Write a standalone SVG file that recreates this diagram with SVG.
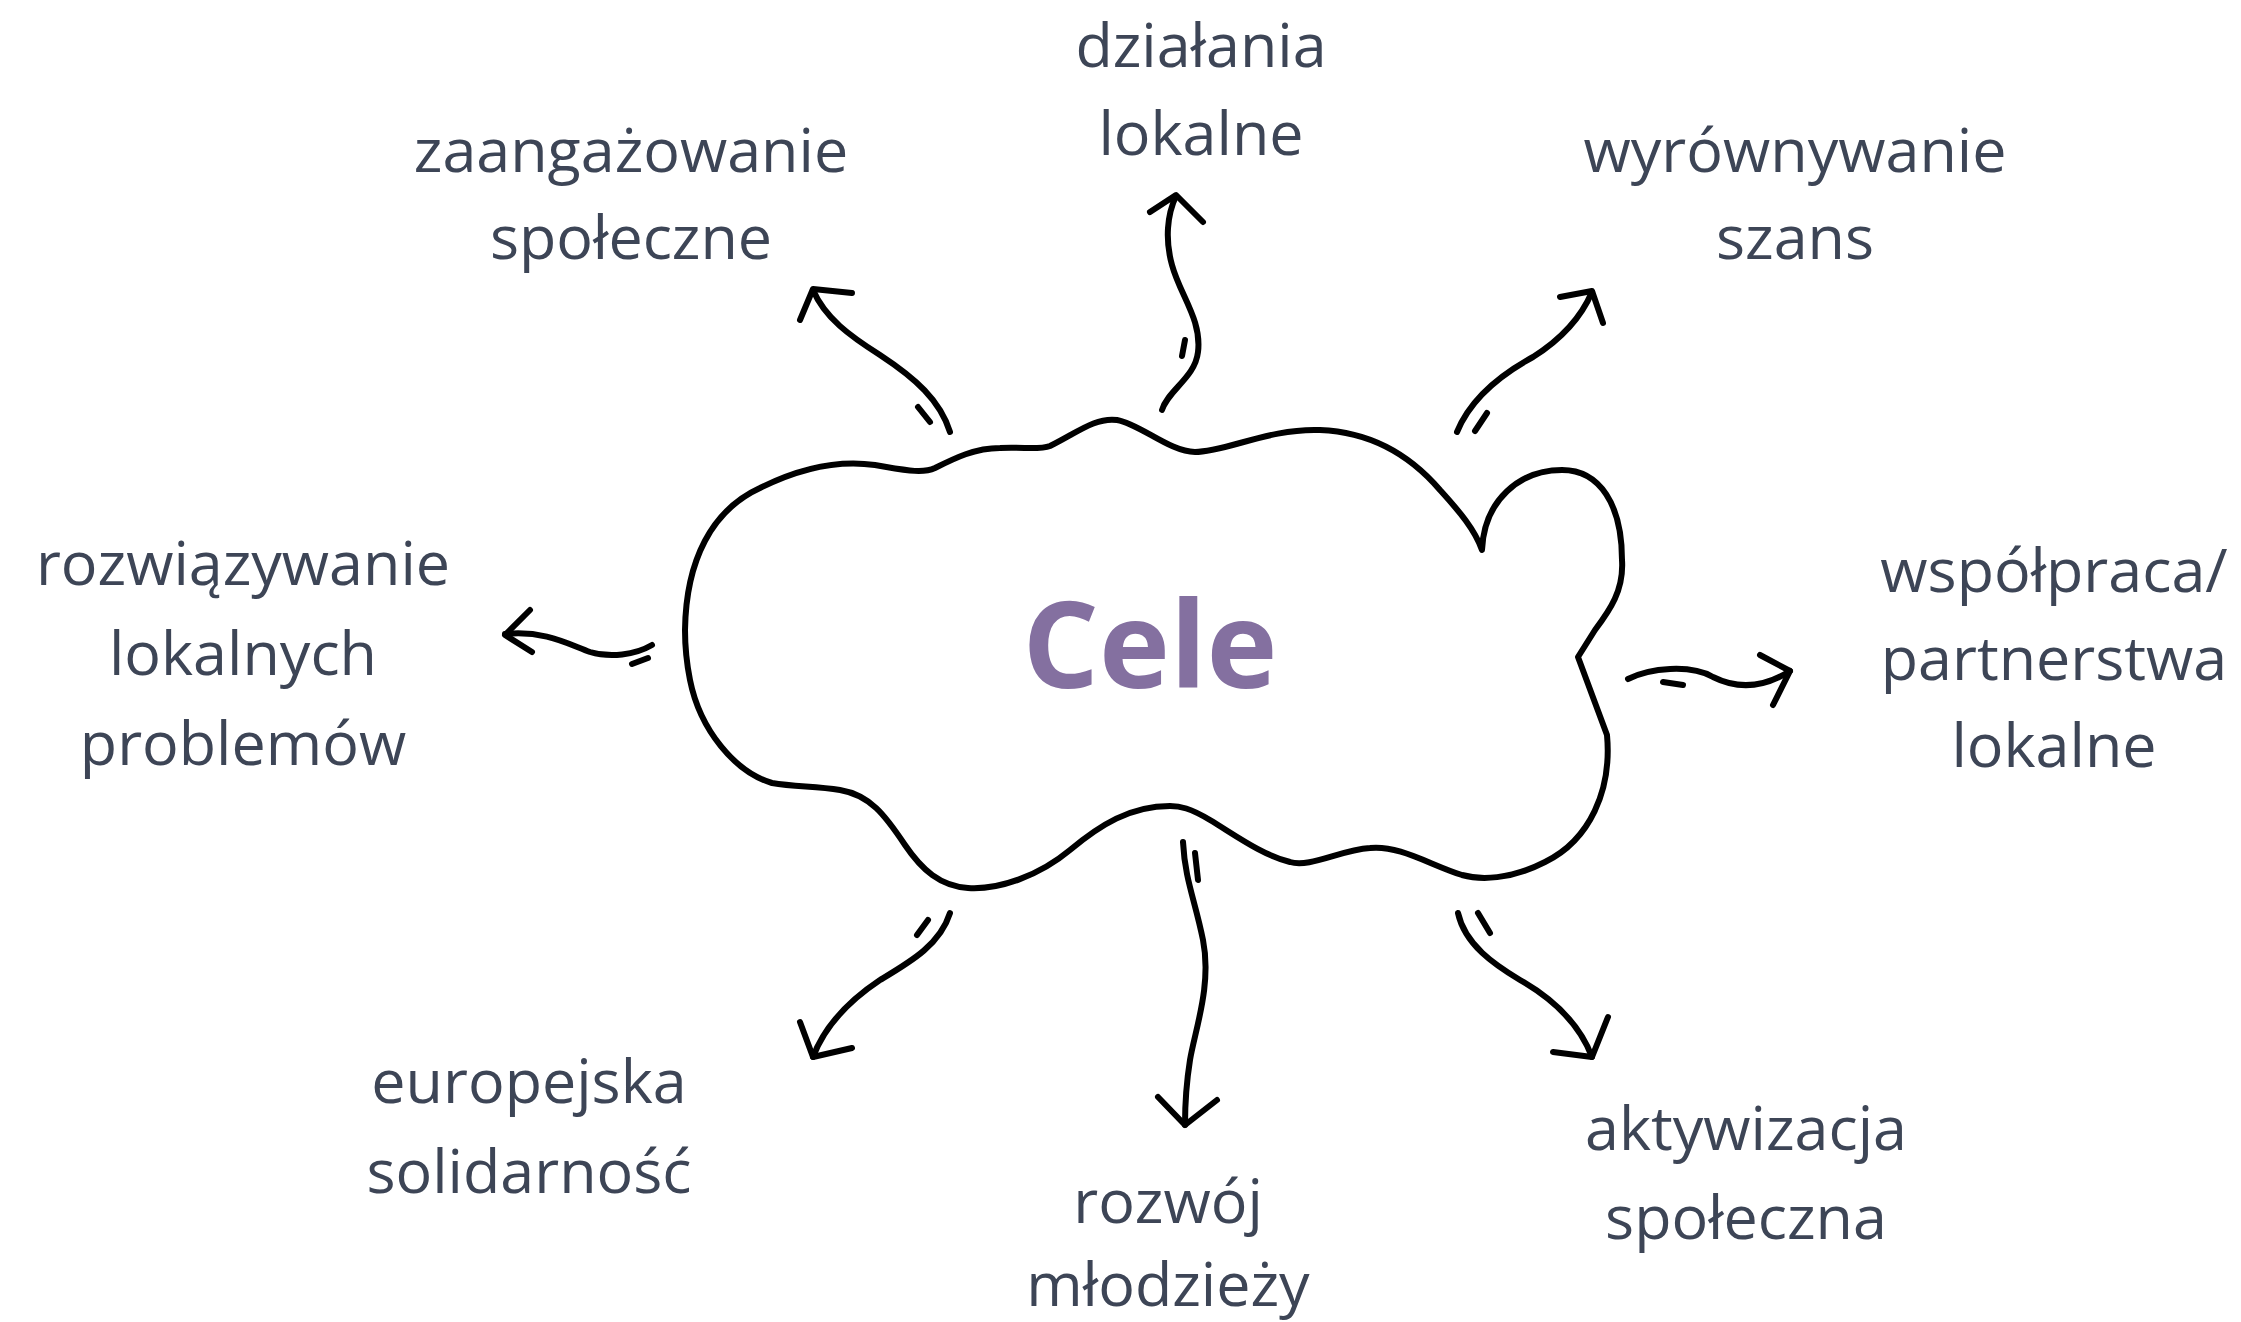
<svg xmlns="http://www.w3.org/2000/svg" width="2241" height="1322" viewBox="0 0 2241 1322">
<style>
.ln{fill:none;stroke:#000;stroke-width:6;stroke-linecap:round;stroke-linejoin:round}
.lbl{font-family:"Open Sans","Noto Sans",sans-serif;font-size:61px;fill:#3d4556;text-anchor:middle}
.title{font-family:"Open Sans","Noto Sans",sans-serif;font-size:120px;font-weight:bold;fill:#8470a0;text-anchor:middle}
</style>
<rect width="2241" height="1322" fill="#fff"/>
<g id="connectors">
  <g id="c-zaangazowanie"><path class="ln" d="M950,432 C940,400 915,378 880,355 C850,336 825,318 813,290"/><path class="ln" d="M800,320 L813,289 L852,293"/><path class="ln" d="M918,407 L930,422"/></g>
  <g id="c-dzialania"><path class="ln" d="M1162,410 C1168,390 1195,378 1198,352 C1202,320 1180,295 1172,265 C1165,240 1167,215 1176,196"/><path class="ln" d="M1150,212 L1176,195 L1203,222"/><path class="ln" d="M1185,340 L1182,356"/></g>
  <g id="c-wyrownywanie"><path class="ln" d="M1457,432 C1470,400 1500,375 1533,357 C1560,340 1580,320 1592,292"/><path class="ln" d="M1560,297 L1592,291 L1603,323"/><path class="ln" d="M1475,431 L1487,413"/></g>
  <g id="c-rozwiazywanie"><path class="ln" d="M652,645 C635,655 610,658 590,652 C570,645 545,630 505,634"/><path class="ln" d="M530,610 L505,635 L532,652"/><path class="ln" d="M632,664 L648,658"/></g>
  <g id="c-wspolpraca"><path class="ln" d="M1628,679 C1650,668 1690,664 1713,677 C1735,688 1760,690 1790,671"/><path class="ln" d="M1760,655 L1790,671 L1773,705"/><path class="ln" d="M1663,682 L1683,685"/></g>
  <g id="c-europejska"><path class="ln" d="M950,913 C940,945 910,962 880,980 C850,1000 825,1025 813,1057"/><path class="ln" d="M800,1022 L813,1057 L852,1048"/><path class="ln" d="M928,920 L917,935"/></g>
  <g id="c-rozwoj"><path class="ln" d="M1183,842 C1185,880 1195,900 1203,940 C1212,985 1195,1030 1190,1060 C1186,1085 1185,1105 1185,1125"/><path class="ln" d="M1158,1097 L1185,1125 L1217,1100"/><path class="ln" d="M1195,853 L1198,880"/></g>
  <g id="c-aktywizacja"><path class="ln" d="M1458,913 C1465,945 1495,965 1520,980 C1555,1000 1580,1025 1592,1057"/><path class="ln" d="M1553,1052 L1592,1057 L1608,1017"/><path class="ln" d="M1478,913 L1490,933"/></g>
</g>
<g id="cele">
  <path class="ln" d="M685,630 C686,560 712,510 760,488 C800,468 840,460 875,465 C905,470 922,474 935,468 C955,458 975,448 1000,448 C1025,447 1040,450 1050,446 C1075,434 1095,417 1117,420 C1140,424 1170,452 1195,452 C1225,452 1270,428 1320,430 C1370,432 1410,455 1440,490 C1460,512 1475,530 1482,550 C1484,500 1520,470 1562,470 C1600,470 1622,505 1622,560 C1624,590 1610,610 1595,630 L1578,657 L1607,735 C1612,790 1590,840 1545,862 C1510,880 1480,880 1462,875 C1430,865 1400,845 1370,848 C1340,850 1310,868 1290,862 C1262,855 1235,835 1210,820 C1190,808 1180,806 1170,806 C1130,806 1100,825 1070,850 C1040,875 1000,890 968,888 C940,886 922,870 905,845 C885,815 870,795 840,790 C815,786 795,787 772,783 C735,772 700,730 690,680 C686,660 685,645 685,630 Z"/>
  <text class="title" x="1150" y="688">Cele</text>
</g>
<g id="n-zaangazowanie"><text class="lbl" x="631" y="172">zaangażowanie</text><text class="lbl" x="631" y="259">społeczne</text></g>
<g id="n-dzialania"><text class="lbl" x="1201" y="67">działania</text><text class="lbl" x="1201" y="155">lokalne</text></g>
<g id="n-wyrownywanie"><text class="lbl" x="1795" y="172">wyrównywanie</text><text class="lbl" x="1795" y="259">szans</text></g>
<g id="n-rozwiazywanie"><text class="lbl" x="243" y="585">rozwiązywanie</text><text class="lbl" x="243" y="675">lokalnych</text><text class="lbl" x="243" y="765">problemów</text></g>
<g id="n-wspolpraca"><text class="lbl" x="2054" y="592">współpraca/</text><text class="lbl" x="2054" y="680">partnerstwa</text><text class="lbl" x="2054" y="767">lokalne</text></g>
<g id="n-europejska"><text class="lbl" x="529" y="1103">europejska</text><text class="lbl" x="529" y="1193">solidarność</text></g>
<g id="n-rozwoj"><text class="lbl" x="1168" y="1223">rozwój</text><text class="lbl" x="1168" y="1306">młodzieży</text></g>
<g id="n-aktywizacja"><text class="lbl" x="1746" y="1150">aktywizacja</text><text class="lbl" x="1746" y="1239">społeczna</text></g>
</svg>
